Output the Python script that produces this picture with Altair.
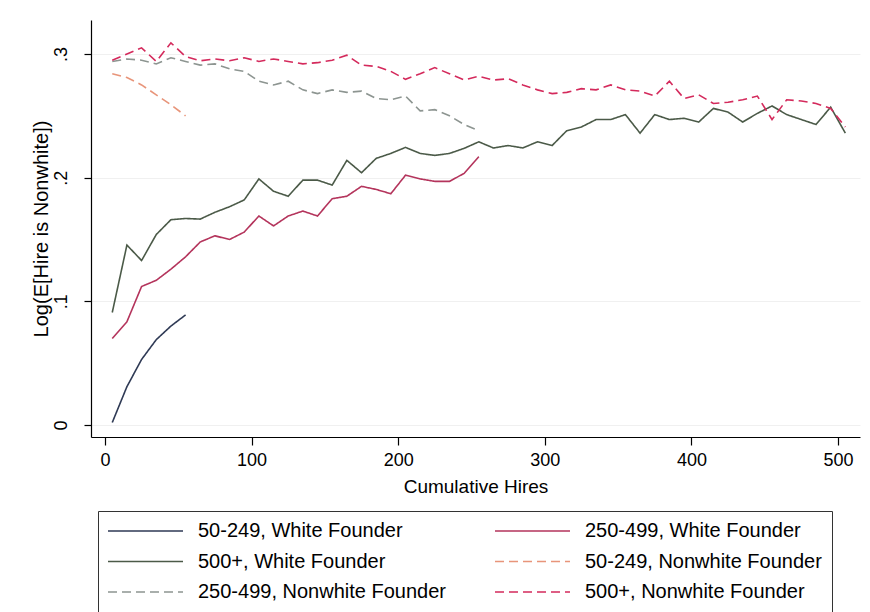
import altair as alt
import pandas as pd

# legend order (entries fill the legend column by column)
series_names = [
    "50-249, White Founder",
    "500+, White Founder",
    "250-499, Nonwhite Founder",
    "250-499, White Founder",
    "50-249, Nonwhite Founder",
    "500+, Nonwhite Founder",
]
series_colors = ["#2f3a55", "#4b5a48", "#8d9591", "#b4345c", "#e8957a", "#d42a5c"]
series_dashes = [[1, 0], [1, 0], [9, 5], [1, 0], [9, 5], [9, 5]]

hires_small = [5, 15, 25, 35, 45, 55]
hires_mid = [5, 15, 25, 35, 45, 55, 65, 75, 85, 95, 105, 115, 125, 135, 145, 155,
             165, 175, 185, 195, 205, 215, 225, 235, 245, 255]
hires_large = [5, 15, 25, 35, 45, 55, 65, 75, 85, 95, 105, 115, 125, 135, 145, 155,
               165, 175, 185, 195, 205, 215, 225, 235, 245, 255, 265, 275, 285, 295,
               305, 315, 325, 335, 345, 355, 365, 375, 385, 395, 405, 415, 425, 435,
               445, 455, 465, 475, 485, 495, 505]

white_small = [0.002, 0.031, 0.053, 0.069, 0.080, 0.089]
white_mid = [0.070, 0.0835, 0.112, 0.117, 0.126, 0.136, 0.148, 0.153, 0.150, 0.156,
             0.169, 0.161, 0.169, 0.173, 0.169, 0.183, 0.185, 0.193, 0.1905, 0.187,
             0.202, 0.199, 0.197, 0.197, 0.2035, 0.217]
white_large = [0.091, 0.1455, 0.133, 0.154, 0.166, 0.167, 0.1665, 0.172, 0.1765, 0.182,
               0.199, 0.189, 0.185, 0.198, 0.198, 0.194, 0.214, 0.204, 0.2156, 0.2196,
               0.2245, 0.2196, 0.218, 0.2196, 0.2237, 0.229, 0.224, 0.226, 0.224, 0.229,
               0.226, 0.238, 0.241, 0.247, 0.247, 0.251, 0.236, 0.251, 0.247, 0.248,
               0.245, 0.256, 0.253, 0.245, 0.252, 0.258, 0.251, 0.247, 0.243, 0.257,
               0.236]
nonwhite_small = [0.284, 0.281, 0.275, 0.267, 0.259, 0.250]
nonwhite_mid = [0.294, 0.296, 0.295, 0.292, 0.297, 0.294, 0.291, 0.292, 0.288, 0.286,
                0.278, 0.275, 0.278, 0.271, 0.268, 0.271, 0.269, 0.270, 0.264, 0.263,
                0.266, 0.254, 0.255, 0.250, 0.243, 0.238]
nonwhite_large = [0.295, 0.300, 0.305, 0.294, 0.309, 0.298, 0.2945, 0.296, 0.2945, 0.297,
                  0.294, 0.296, 0.294, 0.292, 0.293, 0.295, 0.299, 0.291, 0.290, 0.286,
                  0.2795, 0.284, 0.289, 0.284, 0.279, 0.282, 0.279, 0.280, 0.275, 0.271,
                  0.268, 0.269, 0.272, 0.271, 0.275, 0.271, 0.270, 0.266, 0.278, 0.264,
                  0.267, 0.260, 0.261, 0.263, 0.266, 0.247, 0.263, 0.262, 0.260, 0.256,
                  0.241]

x_ticks = [0, 100, 200, 300, 400, 500]
y_ticks = [0, 0.1, 0.2, 0.3]

groups = [
    ("50-249, White Founder", hires_small, white_small),
    ("250-499, White Founder", hires_mid, white_mid),
    ("500+, White Founder", hires_large, white_large),
    ("50-249, Nonwhite Founder", hires_small, nonwhite_small),
    ("250-499, Nonwhite Founder", hires_mid, nonwhite_mid),
    ("500+, Nonwhite Founder", hires_large, nonwhite_large),
]
rows = []
for name, xs, ys in groups:
    for xv, yv in zip(xs, ys):
        rows.append({"series": name, "hires": xv, "value": yv})
df = pd.DataFrame(rows)

FONT = "Liberation Sans"

chart = alt.Chart(df).mark_line(strokeWidth=1.6).encode(
    x=alt.X("hires:Q",
            scale=alt.Scale(domain=[-9.5, 515], nice=False, zero=False),
            axis=alt.Axis(title="Cumulative Hires", values=x_ticks, grid=False,
                          tickSize=8, labelPadding=6, labelFontSize=18,
                          titleFontSize=19, titleFontWeight="normal", titlePadding=8)),
    y=alt.Y("value:Q",
            scale=alt.Scale(domain=[-0.0097, 0.3275], nice=False, zero=False),
            axis=alt.Axis(title="Log(E[Hire is Nonwhite])", values=y_ticks, grid=True,
                          gridColor="#f0f0f0", tickSize=7, labelPadding=14,
                          labelAngle=-90, labelAlign="center", labelBaseline="bottom",
                          labelExpr="datum.value == 0 ? '0' : '.' + format(datum.value * 10, '.0f')",
                          labelFontSize=18, titleFontSize=20, titleFontWeight="normal",
                          titlePadding=1)),
    color=alt.Color("series:N", sort=series_names,
                    scale=alt.Scale(domain=series_names, range=series_colors),
                    legend=alt.Legend(title=None)),
    strokeDash=alt.StrokeDash("series:N", sort=series_names,
                              scale=alt.Scale(domain=series_names, range=series_dashes),
                              legend=alt.Legend(title=None)),
    detail="series:N",
).properties(
    width=769,
    height=417,
    autosize=alt.AutoSizeParams(type="none"),
    padding={"left": 83, "top": 12, "right": 2, "bottom": 175},
    background="white",
).configure_view(
    strokeWidth=0,
).configure_axis(
    labelFont=FONT,
    titleFont=FONT,
    domainColor="#000000",
    domainWidth=1.2,
    tickColor="#000000",
    tickWidth=1.2,
    labelColor="#000000",
    titleColor="#000000",
).configure_legend(
    orient="none",
    legendX=7,
    legendY=491,
    columns=2,
    symbolType="M-2,0H13",
    symbolSize=100,
    symbolStrokeWidth=1.5,
    labelFont=FONT,
    labelFontSize=20,
    labelColor="#000000",
    labelOffset=70,
    labelLimit=400,
    rowPadding=10.5,
    columnPadding=46,
    padding=10,
    strokeColor="#333333",
    fillColor="white",
)

chart.save("out.html", embed_options={"renderer": "svg", "actions": False})
